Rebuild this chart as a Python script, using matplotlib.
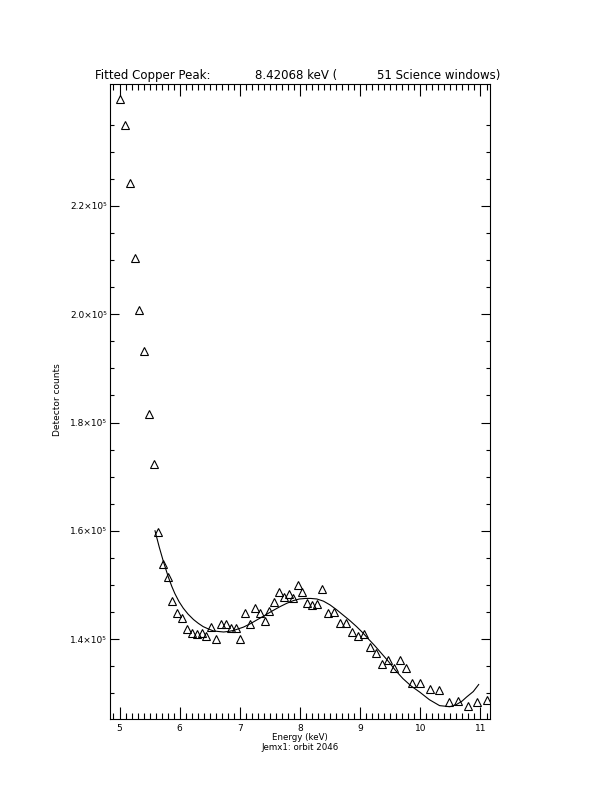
import numpy as np
import matplotlib
matplotlib.use("Agg")
import matplotlib.pyplot as plt
from matplotlib.ticker import FixedLocator, MultipleLocator

# measured spectrum (energy in keV, counts in units of 1e5)
energy = [5.01, 5.09, 5.17, 5.25, 5.33, 5.41, 5.49, 5.57, 5.64, 5.73,
          5.81, 5.88, 5.96, 6.04, 6.13, 6.21, 6.28, 6.37, 6.44, 6.52,
          6.61, 6.69, 6.77, 6.85, 6.93, 7.00, 7.09, 7.17, 7.25, 7.33,
          7.41, 7.49, 7.57, 7.65, 7.73, 7.81, 7.88, 7.97, 8.04, 8.12,
          8.20, 8.28, 8.37, 8.47, 8.56, 8.67, 8.76, 8.86, 8.96, 9.06,
          9.16, 9.26, 9.37, 9.46, 9.56, 9.66, 9.76, 9.86, 10.00, 10.16,
          10.31, 10.47, 10.63, 10.79, 10.95, 11.10]
counts = [2.398, 2.350, 2.243, 2.104, 2.007, 1.933, 1.815, 1.724, 1.598, 1.538,
          1.515, 1.471, 1.449, 1.438, 1.419, 1.412, 1.410, 1.412, 1.406, 1.423,
          1.400, 1.428, 1.428, 1.420, 1.420, 1.400, 1.449, 1.428, 1.458, 1.449,
          1.434, 1.451, 1.468, 1.486, 1.478, 1.484, 1.475, 1.499, 1.486, 1.466,
          1.462, 1.464, 1.493, 1.449, 1.450, 1.430, 1.430, 1.413, 1.406, 1.409,
          1.386, 1.375, 1.354, 1.362, 1.347, 1.362, 1.347, 1.319, 1.319, 1.307,
          1.305, 1.284, 1.285, 1.276, 1.283, 1.288]

# fitted curve
fit_energy = [5.59, 5.66, 5.73, 5.81, 5.87, 5.92, 5.99, 6.06, 6.14, 6.23,
              6.31, 6.39, 6.47, 6.56, 6.64, 6.73, 6.81, 6.90, 7.06, 7.17,
              7.31, 7.42, 7.54, 7.67, 7.78, 7.89, 7.99, 8.09, 8.18, 8.28,
              8.39, 8.50, 8.61, 8.72, 8.83, 8.94, 9.04, 9.13, 9.24, 9.35,
              9.46, 9.58, 9.71, 9.85, 9.99, 10.15, 10.32, 10.49, 10.60, 10.69,
              10.77, 10.88, 10.97]
fit_counts = [1.600, 1.570, 1.543, 1.515, 1.497, 1.484, 1.469, 1.457, 1.446, 1.436,
              1.429, 1.423, 1.419, 1.415, 1.414, 1.413, 1.414, 1.416, 1.422, 1.428,
              1.437, 1.444, 1.452, 1.460, 1.466, 1.471, 1.474, 1.475, 1.475, 1.474,
              1.470, 1.463, 1.454, 1.444, 1.434, 1.423, 1.412, 1.401, 1.388, 1.374,
              1.360, 1.343, 1.327, 1.313, 1.302, 1.288, 1.277, 1.275, 1.279, 1.285,
              1.293, 1.303, 1.316]

xticks = [5, 6, 7, 8, 9, 10, 11]
yticks = [1.4, 1.6, 1.8, 2.0, 2.2]
ytick_labels = ["1.4×10⁵", "1.6×10⁵", "1.8×10⁵", "2.0×10⁵", "2.2×10⁵"]

plt.rcParams['font.family'] = ['DejaVu Sans']

fig = plt.figure(figsize=(6.12, 7.92), dpi=100)
ax = fig.add_axes([110/612, 1 - 719/792, 380/612, 635/792])

ax.plot(np.array(energy), np.array(counts) * 1e5, ls='none', marker='^',
        ms=6, mfc='none', mec='k', mew=0.8)
ax.plot(np.array(fit_energy), np.array(fit_counts) * 1e5, color='k', lw=0.8)

ax.set_xlim(4.842, 11.158)
ax.set_ylim(1.2523e5, 2.4253e5)

ax.xaxis.set_major_locator(FixedLocator(xticks))
ax.xaxis.set_minor_locator(MultipleLocator(0.1))
ax.yaxis.set_major_locator(FixedLocator([v * 1e5 for v in yticks]))
ax.yaxis.set_minor_locator(FixedLocator(np.arange(1.25, 2.36, 0.05) * 1e5))
ax.set_yticklabels(ytick_labels)

ax.tick_params(which='both', direction='in', top=True, right=True, width=0.8,
               labelsize=6.5, color='k')
ax.tick_params(axis='x', which='major', length=8.6, pad=3.5)
ax.tick_params(axis='x', which='minor', length=4.3)
ax.tick_params(axis='y', which='major', length=6.5, pad=2)
ax.tick_params(axis='y', which='minor', length=3)
for s in ax.spines.values():
    s.set_linewidth(0.8)

# title pieces (IDL-style fixed spacing)
fig.text(95/612, 1 - 75/792, "Fitted Copper Peak:", ha='left', va='center', fontsize=8.5)
fig.text(255/612, 1 - 75/792, "8.42068 keV (", ha='left', va='center', fontsize=8.5)
fig.text(377/612, 1 - 75/792, "51 Science windows)", ha='left', va='center', fontsize=8.5)

fig.text(58/612, 1 - 400/792, "Detector counts", rotation=90, ha='center', va='center', fontsize=6.5)
fig.text(300/612, 1 - 737/792, "Energy (keV)", ha='center', va='center', fontsize=6.2)
fig.text(300/612, 1 - 747/792, "Jemx1: orbit 2046", ha='center', va='center', fontsize=6.2)

fig.savefig("out.png", dpi=100)
